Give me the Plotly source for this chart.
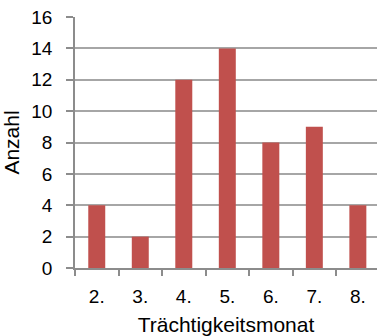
import plotly.graph_objects as go

# Anzahl je Trächtigkeitsmonat
monate = ["2.", "3.", "4.", "5.", "6.", "7.", "8."]
anzahl = [4, 2, 12, 14, 8, 9, 4]
y_ticks = [0, 2, 4, 6, 8, 10, 12, 14, 16]

FONT = "Liberation Sans, Arial, sans-serif"
BAR = "#C0504D"
GRID = "#A6A6A6"
AXIS = "#8C8C8C"

fig = go.Figure(
    go.Bar(
        x=monate,
        y=anzahl,
        marker=dict(color=BAR, line=dict(width=0)),
        width=0.39,
    )
)

fig.update_layout(
    width=377,
    height=336,
    margin=dict(l=75, r=0, t=17, b=68),
    paper_bgcolor="white",
    plot_bgcolor="white",
    showlegend=False,
    font=dict(family=FONT, color="#000000", size=19),
)

fig.update_xaxes(
    type="category",
    range=[-0.5, 6.44],
    tickson="boundaries",
    showgrid=False,
    showline=True,
    linecolor=AXIS,
    linewidth=1.5,
    ticks="outside",
    ticklen=6,
    tickcolor=AXIS,
    tickwidth=1.5,
    ticklabelstandoff=10,
    tickfont=dict(size=19),
    title=dict(text="Trächtigkeitsmonat", font=dict(size=21), standoff=12),
    zeroline=False,
)

fig.update_yaxes(
    range=[0, 16],
    tickmode="array",
    tickvals=y_ticks,
    showgrid=True,
    gridcolor=GRID,
    gridwidth=1.5,
    showline=True,
    linecolor=AXIS,
    linewidth=1.5,
    ticks="outside",
    ticklen=7,
    tickcolor=AXIS,
    tickwidth=1.5,
    ticklabelstandoff=10,
    tickfont=dict(size=19),
    title=dict(text="Anzahl", font=dict(size=21), standoff=8),
    zeroline=False,
)

fig.write_html("out.html")
